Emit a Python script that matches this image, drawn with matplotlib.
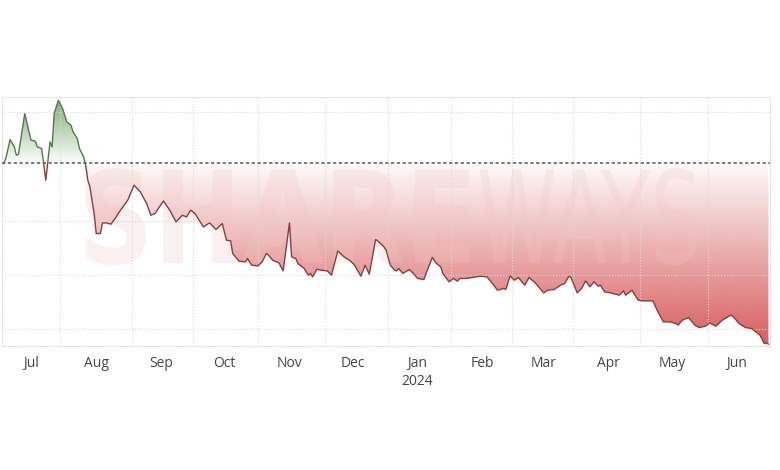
import numpy as np
import pandas as pd
import matplotlib
matplotlib.use('Agg')
import matplotlib.pyplot as plt
import matplotlib.dates as mdates
from matplotlib.path import Path
from matplotlib.patches import Rectangle, PathPatch
from matplotlib.textpath import TextPath
from matplotlib.font_manager import FontProperties
from matplotlib.transforms import Affine2D

# daily closes (arbitrary price units)
dates = pd.to_datetime([
    '2023-06-18', '2023-06-19', '2023-06-21', '2023-06-23', '2023-06-24', '2023-06-25', '2023-06-27',
    '2023-06-28', '2023-06-30', '2023-07-01', '2023-07-03', '2023-07-04', '2023-07-06', '2023-07-07',
    '2023-07-08', '2023-07-10', '2023-07-11', '2023-07-12', '2023-07-14', '2023-07-16', '2023-07-18',
    '2023-07-20', '2023-07-21', '2023-07-23', '2023-07-24', '2023-07-26', '2023-07-27', '2023-07-28',
    '2023-07-29', '2023-07-31', '2023-08-01', '2023-08-03', '2023-08-04', '2023-08-06', '2023-08-08',
    '2023-08-10', '2023-08-12', '2023-08-16', '2023-08-17', '2023-08-19', '2023-08-22', '2023-08-25',
    '2023-08-27', '2023-08-29', '2023-09-02', '2023-09-05', '2023-09-08', '2023-09-11', '2023-09-13',
    '2023-09-15', '2023-09-17', '2023-09-21', '2023-09-24', '2023-09-27', '2023-09-30', '2023-10-02',
    '2023-10-04', '2023-10-05', '2023-10-08', '2023-10-11', '2023-10-12', '2023-10-14', '2023-10-17',
    '2023-10-19', '2023-10-21', '2023-10-22', '2023-10-24', '2023-10-27', '2023-10-29', '2023-11-01',
    '2023-11-02', '2023-11-04', '2023-11-05', '2023-11-08', '2023-11-10', '2023-11-11', '2023-11-12',
    '2023-11-14', '2023-11-16', '2023-11-19', '2023-11-21', '2023-11-24', '2023-11-27', '2023-11-30',
    '2023-12-02', '2023-12-05', '2023-12-07', '2023-12-09', '2023-12-12', '2023-12-13', '2023-12-16',
    '2023-12-17', '2023-12-19', '2023-12-21', '2023-12-22', '2023-12-23', '2023-12-25', '2023-12-28',
    '2023-12-30', '2024-01-01', '2024-01-04', '2024-01-05', '2024-01-08', '2024-01-10', '2024-01-12',
    '2024-01-13', '2024-01-16', '2024-01-18', '2024-01-20', '2024-01-21', '2024-01-24', '2024-01-27',
    '2024-01-31', '2024-02-03', '2024-02-05', '2024-02-08', '2024-02-11', '2024-02-12', '2024-02-14',
    '2024-02-16', '2024-02-18', '2024-02-21', '2024-02-23', '2024-02-26', '2024-03-01', '2024-03-03',
    '2024-03-06', '2024-03-09', '2024-03-11', '2024-03-13', '2024-03-14', '2024-03-17', '2024-03-19',
    '2024-03-21', '2024-03-23', '2024-03-25', '2024-03-27', '2024-03-28', '2024-03-30', '2024-04-02',
    '2024-04-06', '2024-04-08', '2024-04-09', '2024-04-12', '2024-04-15', '2024-04-17', '2024-04-22',
    '2024-04-24', '2024-04-27', '2024-04-30', '2024-05-03', '2024-05-04', '2024-05-06', '2024-05-09',
    '2024-05-10', '2024-05-12', '2024-05-14', '2024-05-17', '2024-05-19', '2024-05-22', '2024-05-25',
    '2024-05-29', '2024-05-30', '2024-06-02', '2024-06-05', '2024-06-08', '2024-06-10', '2024-06-12',
    '2024-06-14', '2024-06-15', '2024-06-16',
])
prices = np.array([
    40.54, 41.52, 44.97, 43.60, 42.07, 42.26, 47.29,
    49.76, 46.37, 44.84, 44.65, 43.60, 43.31, 40.54,
    37.47, 44.53, 43.60, 49.76, 52.21, 50.68, 48.21,
    47.60, 46.37, 45.15, 43.31, 41.76, 40.23, 37.47,
    36.23, 31.33, 27.64, 27.64, 29.59, 29.59, 29.36,
    30.41, 31.62, 33.78, 34.70, 36.54, 35.31, 33.17,
    31.01, 31.33, 33.65, 31.94, 29.78, 31.01, 30.70,
    31.94, 31.33, 28.86, 29.59, 28.38, 29.48, 26.41,
    26.28, 23.95, 22.53, 22.41, 23.03, 21.80, 21.67,
    22.41, 23.95, 23.64, 22.72, 22.22, 20.75, 29.59,
    23.33, 23.03, 22.11, 21.19, 19.95, 20.27, 19.64,
    21.06, 20.88, 20.75, 19.95, 24.43, 23.33, 22.59,
    21.80, 19.77, 21.80, 20.14, 26.53, 26.28, 25.17,
    24.56, 21.80, 20.88, 20.75, 21.19, 20.27, 21.00,
    20.27, 19.35, 19.16, 20.27, 23.22, 22.11, 21.48,
    20.27, 18.72, 19.35, 18.85, 19.35, 19.35, 19.53,
    19.77, 19.64, 18.72, 17.19, 17.50, 17.32, 19.83,
    19.03, 19.53, 18.11, 19.53, 18.54, 16.69, 17.19,
    17.32, 18.11, 18.42, 19.77, 19.53, 16.69, 17.50,
    18.90, 17.80, 18.72, 17.93, 18.11, 16.88, 16.69,
    16.27, 17.06, 16.27, 17.19, 15.35, 15.22, 15.22,
    13.50, 11.35, 11.35, 11.05, 10.74, 11.66, 12.16,
    11.66, 10.74, 10.31, 10.55, 11.16, 10.55, 11.66,
    12.58, 12.40, 11.05, 10.31, 10.13, 9.50, 8.89,
    7.36, 7.47, 7.24,
])
prev_close = 40.6

month_ticks = pd.date_range('2023-07-01', '2024-06-01', freq='MS')
month_labels = ['Jul', 'Aug', 'Sep', 'Oct', 'Nov', 'Dec', 'Jan\n2024',
                'Feb', 'Mar', 'Apr', 'May', 'Jun']
grid_dates = pd.to_datetime(['2023-07-15', '2023-08-18', '2023-09-16', '2023-10-17',
                             '2023-11-18', '2023-12-18', '2024-01-17', '2024-02-15',
                             '2024-03-15', '2024-04-16', '2024-05-18'])
grid_values = [10, 20, 30, 50]

x0 = mdates.date2num(pd.Timestamp('2023-06-17 04:00'))
x1 = mdates.date2num(pd.Timestamp('2024-06-16 18:00'))
y0, y1 = 6.9, 52.8

fig = plt.figure(figsize=(7.8, 4.7), dpi=100)
ax = fig.add_axes([0.0026, 0.2638, 0.9846, 0.5298])
ax.set_xlim(x0, x1)
ax.set_ylim(y0, y1)

x = mdates.date2num(dates)

# red gradient below the previous close
below = ax.fill_between(x, prices, prev_close, where=prices <= prev_close,
                        interpolate=True, facecolor='none', edgecolor='none')
red = np.zeros((256, 1, 4))
red[:, 0, :3] = np.array([212, 78, 78]) / 255
red[:, 0, 3] = np.linspace(0.92, 0.03, 256)
im_r = ax.imshow(red, extent=[x0, x1, y0, prev_close], origin='lower',
                 aspect='auto', interpolation='bilinear', zorder=1)
im_r.set_clip_path(Path.make_compound_path(*below.get_paths()), ax.transData)

# green gradient above it
above = ax.fill_between(x, prices, prev_close, where=prices >= prev_close,
                        interpolate=True, facecolor='none', edgecolor='none')
green = np.zeros((256, 1, 4))
green[:, 0, :3] = np.array([96, 155, 86]) / 255
green[:, 0, 3] = np.linspace(0.02, 0.85, 256)
im_g = ax.imshow(green, extent=[x0, x1, prev_close, y1], origin='lower',
                 aspect='auto', interpolation='bilinear', zorder=1)
im_g.set_clip_path(Path.make_compound_path(*above.get_paths()), ax.transData)

# watermark
def watermark(txt, weight, box):
    tp = TextPath((0, 0), txt, size=1, prop=FontProperties(family='DejaVu Sans', weight=weight))
    ext = tp.get_extents()
    bx0, by0, bx1, by1 = box
    tr = (Affine2D().translate(-ext.x0, -ext.y0)
          .scale((bx1 - bx0) / ext.width, (by1 - by0) / ext.height)
          .translate(bx0, by0) + ax.transAxes)
    ax.add_patch(PathPatch(tp, transform=tr, fc=(0.95, 0.78, 0.78), ec='none',
                           alpha=0.25, zorder=3))

watermark('SHARE', 'bold', (0.108, 0.325, 0.609, 0.715))
watermark('WAYS', 'normal', (0.622, 0.325, 0.905, 0.715))

# line, green above the reference and red below
big = 1000
line_up, = ax.plot(x, prices, color='#4f7d48', lw=1.0, zorder=4)
line_up.set_clip_path(Rectangle((x0 - big, prev_close), 2 * big + x1 - x0, big,
                                transform=ax.transData))
line_dn, = ax.plot(x, prices, color='#8a3d3d', lw=1.0, zorder=4)
line_dn.set_clip_path(Rectangle((x0 - big, prev_close - big), 2 * big + x1 - x0, big,
                                transform=ax.transData))

ax.axhline(prev_close, color='#5a5a5a', lw=1.1, ls=(0, (2.2, 1.6)), zorder=5)

# axes styling
ax.set_xticks(month_ticks)
ax.set_xticklabels(month_labels, fontsize=10, color='#444444', family='Open Sans',
                   linespacing=1.3)
ax.set_xticks(mdates.date2num(grid_dates), minor=True)
ax.set_yticks(grid_values)
ax.set_yticklabels([])
ax.tick_params(axis='both', which='both', length=0)
ax.tick_params(axis='x', pad=7)
ax.grid(which='minor', axis='x', color='#d9d9d9', lw=0.8, ls=':')
ax.grid(which='major', axis='y', color='#d9d9d9', lw=0.8, ls=':')
ax.grid(which='major', axis='x', visible=False)
for s in ax.spines.values():
    s.set_color('#dddddd')
    s.set_linewidth(0.8)
    s.set_linestyle(':')

fig.savefig('out.png', dpi=100)
